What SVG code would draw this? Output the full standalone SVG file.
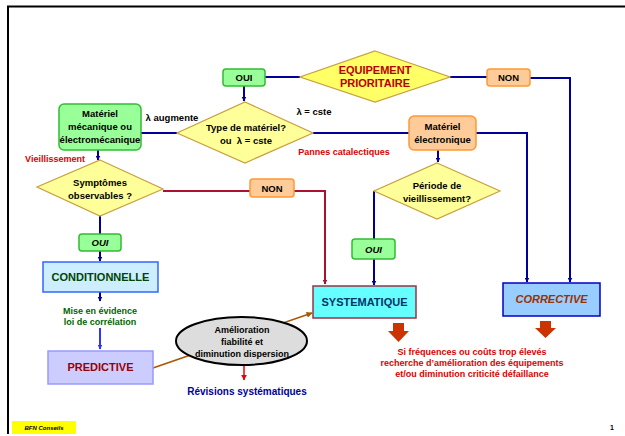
<svg xmlns="http://www.w3.org/2000/svg" width="625" height="436" viewBox="0 0 625 436">
<style>
text{font-family:"Liberation Sans",Arial,sans-serif;font-weight:bold;text-anchor:middle}
.t{font-size:9.5px;fill:#000}
.s{font-size:9px}
.dia{fill:#ffff99;stroke:#c8a040;stroke-width:1.2}
.grn{fill:#99ff99;stroke:#33bb33;stroke-width:1.5}
.org{fill:#ffcc99;stroke:#ff9933;stroke-width:1.5}
.nv{fill:none;stroke:#000099;stroke-width:2}
.rd{fill:none;stroke:#aa1133;stroke-width:2}
.big{font-size:11px}
</style>
<defs>
<marker id="aN" viewBox="0 0 10 10" refX="9" refY="5" markerWidth="5" markerHeight="5" orient="auto" markerUnits="userSpaceOnUse"><path d="M0,0L10,5L0,10z" fill="#000099"/></marker>
<marker id="aB" viewBox="0 0 10 10" refX="9" refY="5" markerWidth="5" markerHeight="5" orient="auto" markerUnits="userSpaceOnUse"><path d="M0,0L10,5L0,10z" fill="#3333ff"/></marker>
<marker id="aR" viewBox="0 0 10 10" refX="9" refY="5" markerWidth="5" markerHeight="5" orient="auto" markerUnits="userSpaceOnUse"><path d="M0,0L10,5L0,10z" fill="#aa1133"/></marker>
<marker id="aW" viewBox="0 0 10 10" refX="9" refY="5" markerWidth="6" markerHeight="6" orient="auto" markerUnits="userSpaceOnUse"><path d="M0,0L10,5L0,10z" fill="#aa5500"/></marker>
<marker id="aF" viewBox="0 0 10 10" refX="9" refY="5" markerWidth="6" markerHeight="6" orient="auto" markerUnits="userSpaceOnUse"><path d="M0,0L10,5L0,10z" fill="#ee0000"/></marker>
</defs>
<rect width="625" height="436" fill="#fff"/>
<path d="M8,434V6.5H625" fill="none" stroke="#000" stroke-width="2"/>

<g id="connectors">
<path class="nv" d="M265,77H300"/>
<path class="nv" d="M450,77H487"/>
<path class="nv" d="M530,78H570V282" marker-end="url(#aN)"/>
<path class="nv" d="M244,86V101" marker-end="url(#aN)"/>
<path class="nv" d="M177,133H141"/>
<path class="nv" d="M313,133H409"/>
<path class="nv" d="M476,133H527V282" marker-end="url(#aN)"/>
<path class="nv" d="M438,150V162" marker-end="url(#aN)"/>
<path class="nv" d="M374,191V239"/>
<path class="nv" d="M374,259V285" marker-end="url(#aN)"/>
<path class="nv" d="M98,150V160" marker-end="url(#aN)" stroke="#0033cc"/>
<path class="rd" d="M163,191H250"/>
<path class="rd" d="M294,191H325V284" marker-end="url(#aR)"/>
<path class="nv" d="M100,215V234" stroke="#0033cc"/>
<path class="nv" d="M100,251V261" marker-end="url(#aN)" stroke="#0033cc"/>
<path class="nv" d="M100,292V301" marker-end="url(#aN)" stroke="#0033cc"/>
<path d="M100,328V349" fill="none" stroke="#3333ff" stroke-width="2" marker-end="url(#aB)"/>
<path d="M153,368L312,313" fill="none" stroke="#aa5500" stroke-width="1.5" marker-end="url(#aW)"/>
<path d="M244,366V380" fill="none" stroke="#ee0000" stroke-width="1.5" marker-end="url(#aF)"/>
</g>

<g id="equipement">
<polygon points="375,51 450,77 375,102 300,77" fill="#ffff66" stroke="#c8a040" stroke-width="1.2"/>
<text class="big" x="375" y="74" fill="#bb0000">EQUIPEMENT</text>
<text class="big" x="375" y="87" fill="#bb0000">PRIORITAIRE</text>
</g>
<g id="oui-top">
<rect class="grn" x="223" y="69" width="42" height="17" rx="3"/>
<text class="t" x="244" y="81">OUI</text>
</g>
<g id="non-top">
<rect class="org" x="487" y="69" width="43" height="17" rx="3"/>
<text class="t" x="508.5" y="81" font-weight="normal">NON</text>
</g>
<g id="type">
<polygon class="dia" points="245,102 313,133 245,163 177,133"/>
<text class="t" x="246" y="131">Type de matériel?</text>
<text class="t" x="246" y="144">ou &#160;λ = cste</text>
</g>
<g id="labels-type">
<text class="t" x="172" y="121">λ augmente</text>
<text class="t" x="314" y="115">λ = cste</text>
<text class="s" x="344" y="155" fill="#dd0000">Pannes catalectiques</text>
<text class="s" x="55" y="162" fill="#dd0000">Vieillissement</text>
</g>
<g id="mecanique">
<rect class="grn" x="59" y="104" width="82" height="46" rx="5"/>
<text class="t" x="100" y="117">Matériel</text>
<text class="t" x="100" y="130">mécanique ou</text>
<text class="t" x="100" y="143">électromécanique</text>
</g>
<g id="electronique">
<rect class="org" x="409" y="116" width="67" height="34" rx="5"/>
<text class="t" x="442.5" y="130">Matériel</text>
<text class="t" x="442.5" y="143">électronique</text>
</g>
<g id="symptomes">
<polygon class="dia" points="100,160 163,189 100,216 37,187"/>
<text class="t" x="100" y="186">Symptômes</text>
<text class="t" x="100" y="199">observables ?</text>
</g>
<g id="non-sym">
<rect class="org" x="250" y="179" width="44" height="18" rx="3"/>
<text class="t" x="272" y="192" font-weight="normal">NON</text>
</g>
<g id="periode">
<polygon class="dia" points="437,163 500,191 437,219 374,191"/>
<text class="t" x="437" y="189">Période de</text>
<text class="t" x="437" y="202">vieillissement?</text>
</g>
<g id="oui-periode">
<rect class="grn" x="352" y="239" width="43" height="20" rx="3"/>
<text class="t" x="373.5" y="253" font-style="italic">OUI</text>
</g>
<g id="oui-sym">
<rect class="grn" x="79" y="234" width="42" height="17" rx="3"/>
<text class="t" x="100" y="246" font-style="italic">OUI</text>
</g>
<g id="conditionnelle">
<rect x="43" y="262" width="115" height="30" fill="#cceeff" stroke="#3366ff" stroke-width="1.5"/>
<text class="big" x="100.5" y="281" fill="#004400">CONDITIONNELLE</text>
</g>
<g id="correlation">
<text class="s" x="100" y="314" fill="#006600">Mise en évidence</text>
<text class="s" x="100" y="325" fill="#006600">loi de corrélation</text>
</g>
<g id="predictive">
<rect x="48" y="351" width="105" height="33" fill="#ccccff" stroke="#9999ff" stroke-width="1.5"/>
<text class="big" x="100.5" y="371" fill="#990000">PREDICTIVE</text>
</g>
<g id="systematique">
<rect x="313" y="286" width="103" height="32" fill="#66ffff" stroke="#993344" stroke-width="1.5"/>
<text class="big" x="364.5" y="306" fill="#003366">SYSTEMATIQUE</text>
</g>
<g id="corrective">
<rect x="503" y="283" width="97" height="33" fill="#99ccff" stroke="#0000cc" stroke-width="1.5"/>
<text class="big" x="551.5" y="303" fill="#993300" font-style="italic">CORRECTIVE</text>
</g>
<g id="amelioration">
<ellipse cx="241.5" cy="341" rx="65.5" ry="24" fill="#dddddd" stroke="#000" stroke-width="2"/>
<text class="s" x="242" y="333">Amélioration</text>
<text class="s" x="242" y="345">fiabilité et</text>
<text class="s" x="242" y="357">diminution dispersion</text>
</g>
<g id="revisions">
<text x="247" y="395" font-size="10" fill="#000099">Révisions systématiques</text>
</g>
<g id="block-arrows" fill="#cc3300">
<polygon points="393,323 404,323 404,331 409,331 398.5,342 388,331 393,331"/>
<polygon points="540,321 551,321 551,328 556,328 545.5,338 535,328 540,328"/>
</g>
<g id="conseil">
<text class="s" x="472" y="355" fill="#dd0000" font-size="8.5">Si fréquences ou coûts trop élevés</text>
<text class="s" x="472" y="366" fill="#dd0000" font-size="8.5">recherche d’amélioration des équipements</text>
<text class="s" x="472" y="377" fill="#dd0000" font-size="8.5">et/ou diminution criticité défaillance</text>
</g>
<g id="footer">
<rect x="12" y="421" width="64" height="13" fill="#ffff00"/>
<text x="44" y="430" font-size="6" font-weight="normal" font-style="italic">BFN Conseils</text>
<text x="612" y="430" font-size="7" font-weight="normal">1</text>
</g>
</svg>
